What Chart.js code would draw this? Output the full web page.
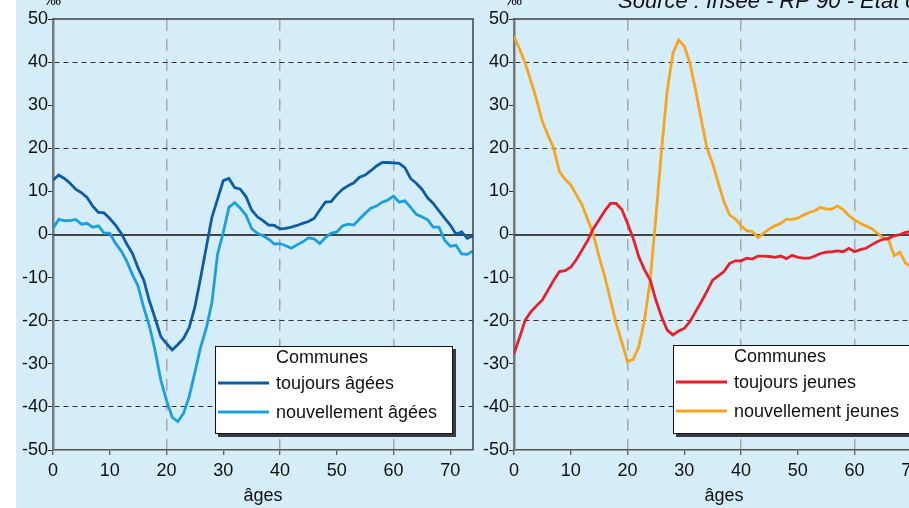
<!DOCTYPE html>
<html lang="fr">
<head>
<meta charset="utf-8">
<script src="https://cdn.jsdelivr.net/npm/chart.js@4.4.1/dist/chart.umd.min.js"></script>
<style>
  html, body { margin: 0; padding: 0; }
  body { width: 909px; height: 508px; overflow: hidden; position: relative; background: #fff; }
  #fond { position: absolute; left: 16px; top: 0; width: 893px; height: 508px; background: #d5ecf9; }
  canvas { position: absolute; top: 0; }
  #gauche { left: 0; }
  #droite { left: 461px; }
</style>
</head>
<body>
<div id="fond"></div>
<canvas id="gauche" width="480" height="508"></canvas>
<canvas id="droite" width="480" height="508"></canvas>
<script>
// âges de 0 à 74 ans
const ages = [0, 1, 2, 3, 4, 5, 6, 7, 8, 9,
  10, 11, 12, 13, 14, 15, 16, 17, 18, 19,
  20, 21, 22, 23, 24, 25, 26, 27, 28, 29,
  30, 31, 32, 33, 34, 35, 36, 37, 38, 39,
  40, 41, 42, 43, 44, 45, 46, 47, 48, 49,
  50, 51, 52, 53, 54, 55, 56, 57, 58, 59,
  60, 61, 62, 63, 64, 65, 66, 67, 68, 69,
  70, 71, 72, 73, 74];

// soldes migratoires en ‰
const toujoursAgees = [12.6, 13.8, 13.0, 11.9, 10.5, 9.7, 8.6, 6.6, 5.1, 5.0,
  3.7, 2.2, 0.3, -2.2, -4.4, -7.8, -10.6, -15.5, -19.5, -23.7,
  -25.3, -26.8, -25.5, -24.1, -21.6, -16.8, -10.1, -3.0, 4.0, 8.2,
  12.5, 13.0, 10.9, 10.5, 8.8, 5.7, 4.1, 3.2, 2.2, 2.1,
  1.3, 1.4, 1.7, 2.1, 2.6, 3.0, 3.7, 5.7, 7.5, 7.6,
  9.2, 10.5, 11.3, 12.0, 13.3, 13.8, 14.8, 15.9, 16.7, 16.7,
  16.6, 16.5, 15.5, 13.0, 11.9, 10.5, 8.5, 7.2, 5.5, 3.8,
  2.2, 0.1, 0.6, -0.9, -0.3];

const nouvellementAgees = [1.4, 3.5, 3.2, 3.2, 3.5, 2.4, 2.6, 1.7, 2.0, 0.3,
  0.3, -2.0, -3.8, -6.2, -9.3, -12.0, -17.0, -21.3, -27.0, -33.8,
  -38.5, -42.4, -43.4, -41.5, -37.6, -32.0, -26.2, -21.8, -15.8, -4.5,
  0.5, 6.3, 7.4, 6.1, 4.5, 1.4, 0.3, -0.3, -1.1, -2.2,
  -2.1, -2.6, -3.2, -2.4, -1.7, -0.8, -1.0, -2.1, -0.7, 0.3,
  0.6, 2.0, 2.4, 2.2, 3.6, 4.9, 6.1, 6.6, 7.5, 8.0,
  8.9, 7.5, 7.8, 6.3, 4.7, 4.1, 3.4, 1.7, 1.7, -1.3,
  -2.7, -2.5, -4.5, -4.6, -3.8];

const toujoursJeunes = [-27.7, -23.8, -19.8, -17.9, -16.5, -15.2, -12.9, -10.6, -8.6, -8.4,
  -7.6, -5.8, -3.6, -1.3, 1.4, 3.4, 5.5, 7.2, 7.2, 5.8,
  2.6, -0.9, -5.2, -8.2, -10.6, -15.2, -19.1, -22.2, -23.3, -22.4,
  -21.8, -20.2, -17.9, -15.6, -13.2, -10.6, -9.6, -8.6, -6.7, -6.1,
  -6.1, -5.5, -5.7, -5.0, -5.0, -5.1, -5.3, -5.0, -5.6, -4.8,
  -5.3, -5.5, -5.5, -5.0, -4.4, -4.1, -4.0, -3.8, -4.0, -3.2,
  -4.0, -3.5, -3.2, -2.4, -1.7, -1.1, -0.9, -0.3, 0.0, 0.5,
  0.7, 1.0, 1.2, 1.3, 1.5];

const nouvellementJeunes = [46.0, 43.0, 39.7, 35.5, 31.2, 26.2, 23.0, 20.0, 14.6, 12.8,
  11.5, 9.2, 6.8, 3.4, -0.1, -5.2, -9.8, -15.2, -20.6, -25.0,
  -29.5, -29.0, -26.0, -19.8, -10.6, 4.1, 19.6, 33.5, 42.0, 45.1,
  43.7, 39.7, 33.5, 26.6, 20.0, 16.5, 11.9, 7.6, 4.5, 3.6,
  2.0, 0.9, 0.7, -0.7, 0.3, 1.3, 2.0, 2.6, 3.5, 3.5,
  3.8, 4.5, 5.1, 5.5, 6.3, 5.9, 5.9, 6.6, 5.8, 4.4,
  3.4, 2.6, 2.0, 1.4, 0.3, -0.7, -1.3, -4.9, -4.1, -6.7,
  -7.6, -8.2, -8.8, -9.2, -9.5];

const xGridValues = [20, 40, 60];
const yGridValues = [-40, -20, 20, 40];

Chart.defaults.font.family = '"Liberation Sans", Arial, sans-serif';
Chart.defaults.font.size = 18;
Chart.defaults.color = '#111';

const points = (serie) => ages.map((a, i) => ({ x: a, y: serie[i] }));

const decor = {
  id: 'decor',
  beforeDatasetsDraw(chart) {
    const { ctx, chartArea: a, scales: { y } } = chart;
    const y0 = Math.round(y.getPixelForValue(0));
    ctx.save();
    ctx.strokeStyle = '#454545';
    ctx.lineWidth = 2;
    ctx.beginPath();
    ctx.moveTo(a.left, y0);
    ctx.lineTo(a.right, y0);
    ctx.stroke();
    ctx.restore();
  },
  afterDatasetsDraw(chart) {
    const { ctx, chartArea: a } = chart;
    ctx.save();
    ctx.strokeStyle = '#404040';
    ctx.lineWidth = 1.5;
    ctx.beginPath();
    ctx.moveTo(a.left, a.top);
    ctx.lineTo(a.right, a.top);
    ctx.lineTo(a.right, a.bottom);
    ctx.stroke();
    ctx.restore();
  },
  afterDraw(chart, args, opts) {
    const { ctx, chartArea: a } = chart;
    const b = opts.box;
    ctx.save();
    // ‰ au-dessus de l'axe
    ctx.font = '16px "Liberation Sans"';
    ctx.fillStyle = '#111';
    ctx.textAlign = 'center';
    ctx.textBaseline = 'alphabetic';
    ctx.fillText('‰', a.left, 5);

    if (opts.source) {
      ctx.font = 'italic 22px "Liberation Sans"';
      ctx.textAlign = 'left';
      ctx.fillText(opts.source, opts.sourceX, 8);
    }

    // cadre de légende
    ctx.fillStyle = '#3a3a3a';
    ctx.fillRect(b.x + 3, b.y + 3, b.w + 1, b.h + 1);
    ctx.fillStyle = '#fff';
    ctx.fillRect(b.x, b.y, b.w, b.h);
    ctx.strokeStyle = '#111';
    ctx.lineWidth = 1;
    ctx.strokeRect(b.x + 0.5, b.y + 0.5, b.w, b.h);

    ctx.font = '18px "Liberation Sans"';
    ctx.fillStyle = '#111';
    ctx.textAlign = 'left';
    ctx.textBaseline = 'middle';
    ctx.fillText('Communes', b.x + 61, b.y + 12);
    const rows = [37, 66];
    chart.data.datasets.forEach((ds, i) => {
      const yy = b.y + rows[i];
      ctx.strokeStyle = ds.borderColor;
      ctx.lineWidth = 3;
      ctx.beginPath();
      ctx.moveTo(b.x + 3, yy);
      ctx.lineTo(b.x + 54, yy);
      ctx.stroke();
      ctx.fillText(ds.label, b.x + 61, yy + 1);
    });
    ctx.restore();
  }
};

function axes() {
  return {
    x: {
      type: 'linear',
      min: 0,
      max: 74,
      afterFit(s) { s.height = 58; },
      ticks: { stepSize: 10, includeBounds: false, padding: 5, maxRotation: 0, color: '#111' },
      grid: {
        color: (c) => (c.tick && xGridValues.includes(c.tick.value) ? '#a8a8a8' : 'transparent'),
        lineWidth: 1.5,
        tickColor: '#333',
        tickLength: 5,
        tickWidth: 1
      },
      border: { color: '#555', width: 1.5, dash: [12, 8] },
      title: { display: true, text: 'âges', color: '#111', padding: { top: 0, bottom: 1 } }
    },
    y: {
      min: -50,
      max: 50,
      afterFit(s) { s.width = 53; },
      ticks: { stepSize: 10, padding: 0, color: '#111' },
      grid: {
        color: (c) => (c.tick && yGridValues.includes(c.tick.value) ? '#333' : 'transparent'),
        lineWidth: 1,
        tickColor: '#333',
        tickLength: 5,
        tickWidth: 1
      },
      border: { color: '#777', width: 2.5, dash: [5, 4] }
    }
  };
}

function makeChart(id, series, decorOpts) {
  return new Chart(document.getElementById(id), {
    type: 'line',
    data: {
      datasets: series.map((s) => ({
        label: s.label,
        data: points(s.data),
        borderColor: s.color,
        borderWidth: 2.8,
        pointRadius: 0,
        tension: 0,
        fill: false
      }))
    },
    options: {
      responsive: false,
      animation: false,
      devicePixelRatio: 1,
      layout: { padding: { left: 0, right: 7, top: 19, bottom: 0 } },
      scales: axes(),
      plugins: {
        legend: { display: false },
        tooltip: { enabled: false },
        decor: decorOpts
      }
    },
    plugins: [decor]
  });
}

makeChart('gauche', [
  { label: 'toujours âgées', data: toujoursAgees, color: '#0d5ca6' },
  { label: 'nouvellement âgées', data: nouvellementAgees, color: '#1aa0de' }
], { box: { x: 215, y: 346, w: 237, h: 87 } });

makeChart('droite', [
  { label: 'toujours jeunes', data: toujoursJeunes, color: '#e8202b' },
  { label: 'nouvellement jeunes', data: nouvellementJeunes, color: '#f8a51d' }
], { box: { x: 212, y: 345, w: 243, h: 88 }, source: 'Source : Insee - RP 90 - État civil', sourceX: 157 });
</script>
</body>
</html>
